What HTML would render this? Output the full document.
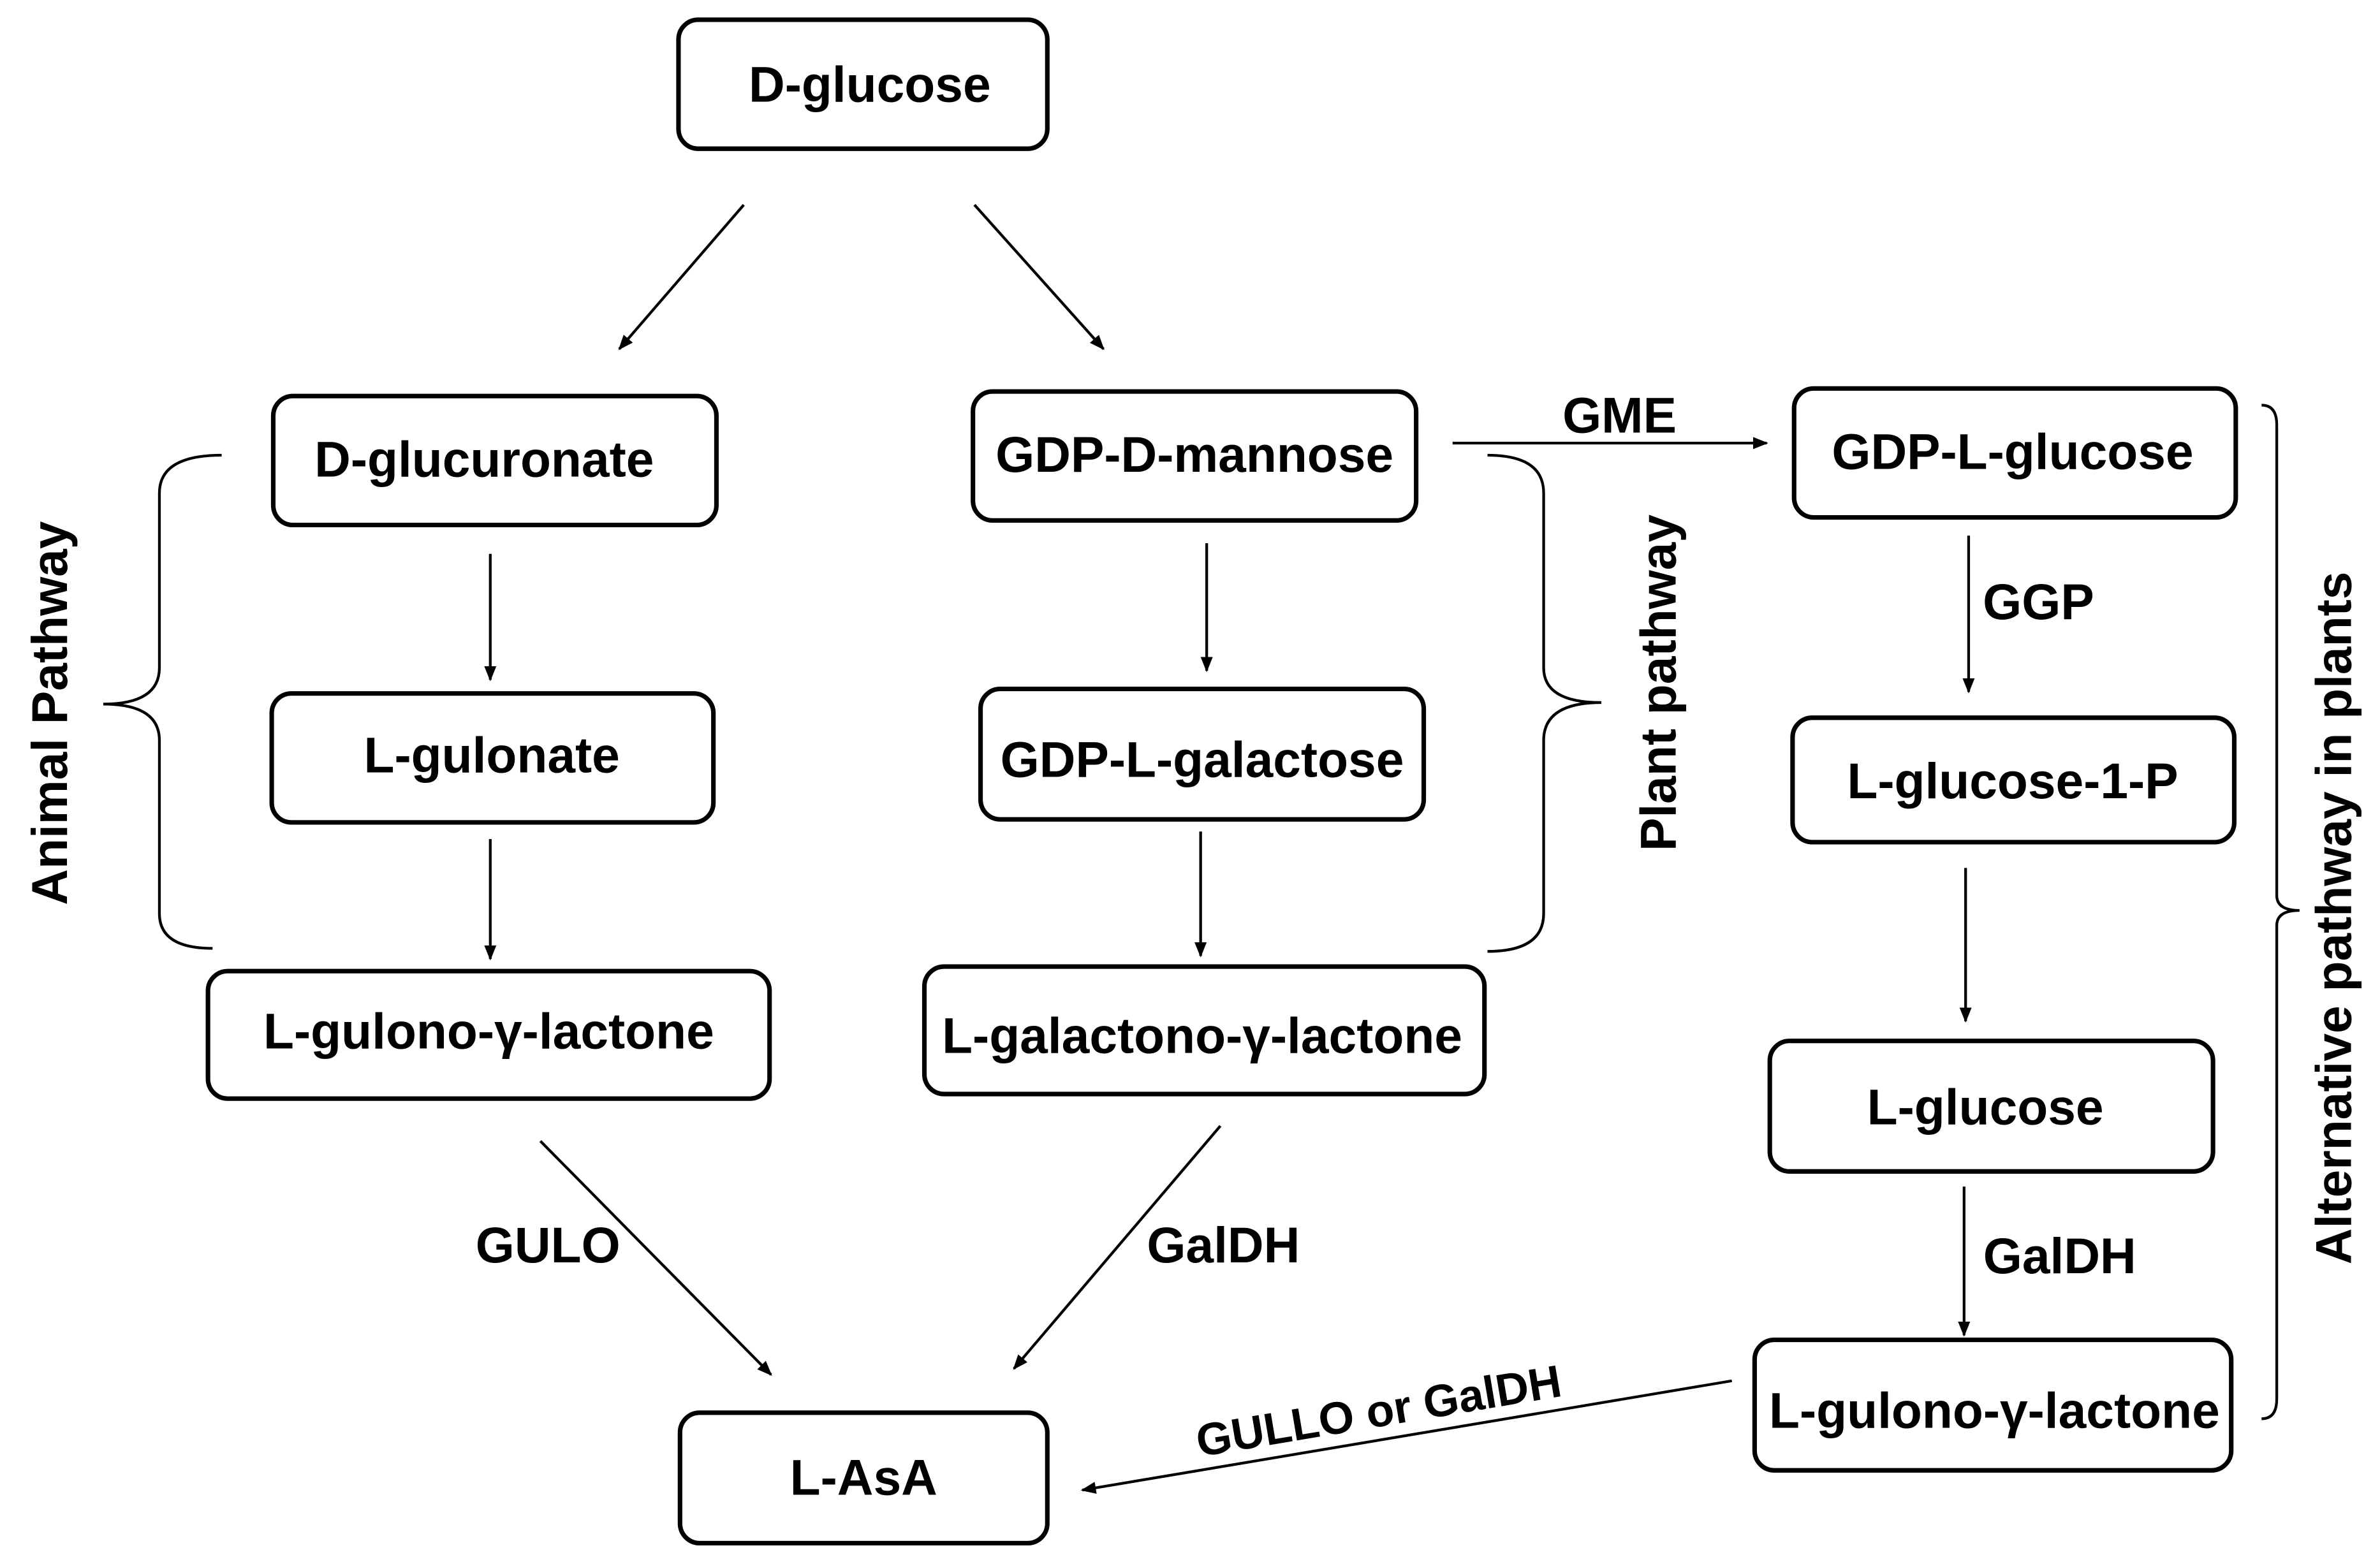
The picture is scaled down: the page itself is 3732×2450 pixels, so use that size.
<!DOCTYPE html>
<html><head><meta charset="utf-8"><style>
html,body{margin:0;padding:0;background:#fff;}
svg{display:block}
text{font-family:"Liberation Sans",Arial,sans-serif;font-weight:bold;fill:#000;}
</style></head><body>
<svg width="3732" height="2450" viewBox="0 0 1568 1029.4" xmlns="http://www.w3.org/2000/svg">
<defs>
<marker id="a" viewBox="0 0 10 10" refX="9" refY="5" markerWidth="10" markerHeight="10" markerUnits="userSpaceOnUse" orient="auto">
<path d="M0,1 L10,5 L0,9 z" fill="#000"/></marker>
</defs>
<g fill="#fff" stroke="#000" stroke-width="3">
<rect x="447" y="13" width="243" height="85" rx="13"/>
<rect x="180" y="261" width="292" height="85" rx="13"/>
<rect x="179" y="457" width="291" height="85" rx="13"/>
<rect x="137" y="640" width="370" height="84" rx="13"/>
<rect x="641" y="258" width="292" height="85" rx="13"/>
<rect x="646" y="454" width="292" height="86" rx="13"/>
<rect x="609" y="637" width="369" height="84" rx="13"/>
<rect x="1182" y="256" width="291" height="85" rx="13"/>
<rect x="1181" y="473" width="291" height="82" rx="13"/>
<rect x="1166" y="686" width="292" height="86" rx="13"/>
<rect x="1156" y="883" width="314" height="86" rx="13"/>
<rect x="448" y="931" width="242" height="86" rx="13"/>
</g>
<g font-size="33" text-anchor="middle">
<text x="573" y="67">D-glucose</text>
<text x="319" y="314">D-glucuronate</text>
<text x="324" y="509">L-gulonate</text>
<text x="322" y="691">L-gulono-γ-lactone</text>
<text x="787" y="311">GDP-D-mannose</text>
<text x="792" y="512">GDP-L-galactose</text>
<text x="792" y="694">L-galactono-γ-lactone</text>
<text x="1326" y="309">GDP-L-glucose</text>
<text x="1326" y="526">L-glucose-1-P</text>
<text x="1308" y="741">L-glucose</text>
<text x="1314" y="941">L-gulono-γ-lactone</text>
<text x="569" y="985">L-AsA</text>
<text x="361" y="832">GULO</text>
<text x="806" y="832">GalDH</text>
<text x="1067" y="285">GME</text>
<text x="1343" y="408">GGP</text>
<text x="1357" y="839">GalDH</text>
<text transform="translate(910,940) rotate(-9.5)" font-size="30">GULLO or GalDH</text>
<text transform="translate(44,470) rotate(-90)">Animal Pathway</text>
<text transform="translate(1104,450) rotate(-90)">Plant pathway</text>
<text transform="translate(1549,605) rotate(-90)">Alternative pathway in plants</text>
</g>
<g stroke="#000" stroke-width="1.8" fill="none" marker-end="url(#a)">
<line x1="490" y1="135" x2="408" y2="230"/>
<line x1="642" y1="135" x2="727" y2="230"/>
<line x1="323" y1="365" x2="323" y2="448"/>
<line x1="323" y1="553" x2="323" y2="632"/>
<line x1="795" y1="358" x2="795" y2="442"/>
<line x1="791" y1="548" x2="791" y2="630"/>
<line x1="356" y1="752" x2="508" y2="906"/>
<line x1="804" y1="742" x2="668" y2="902"/>
<line x1="957" y1="292" x2="1164" y2="292"/>
<line x1="1297" y1="353" x2="1297" y2="456"/>
<line x1="1295" y1="572" x2="1295" y2="673"/>
<line x1="1294" y1="782" x2="1294" y2="880"/>
<line x1="1141" y1="910" x2="713" y2="982"/>
</g>
<g stroke="#000" stroke-width="1.8" fill="none">
<path d="M146,300 Q105,300 105,325 L105,440 Q105,464 68,464 Q105,464 105,488 L105,602 Q105,625 140,625"/>
<path d="M980,300 Q1017,300 1017,325 L1017,440 Q1017,463 1055,463 Q1017,463 1017,488 L1017,602 Q1017,627 980,627"/>
<path d="M1490,267 Q1500,267 1500,280 L1500,590 Q1500,600 1515,600 Q1500,600 1500,610 L1500,922 Q1500,935 1490,935"/>
</g>
</svg>
</body></html>
